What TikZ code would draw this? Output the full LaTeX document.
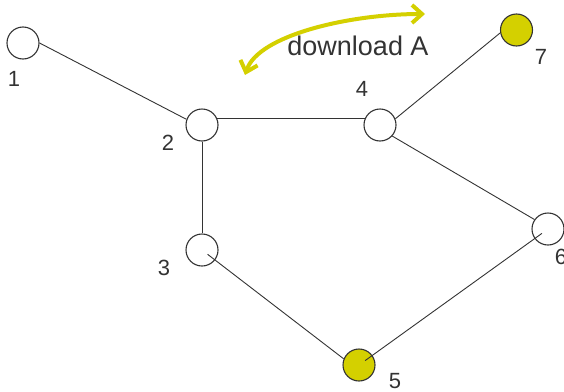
\documentclass[tikz,border=0pt]{standalone}
\usepackage{fontspec}
\setmainfont{Liberation Sans}
\usetikzlibrary{arrows.meta,calc}
\definecolor{ylw}{RGB}{212,208,0}
\definecolor{ink}{RGB}{51,51,51}
\tikzset{barbtip/.tip={Straight Barb[length=10pt,width=18pt]}}
\begin{document}
\begin{tikzpicture}[x=1pt,y=-1pt,
  vtx/.style={circle,draw=ink,line width=1.1pt,minimum size=32pt,inner sep=0pt,fill=white},
  hot/.style={vtx,fill=ylw},
  lbl/.style={font=\fontsize{22}{22}\selectfont,text=ink,inner sep=0pt},
  edge/.style={draw=ink,line width=0.9pt},
]
\useasboundingbox (0,0) rectangle (564,391);
\clip (0,0) rectangle (564,391);
% vertices
\node[vtx] (c1) at (23,43) {};
\node[vtx] (c2) at (202,125) {};
\node[vtx] (c3) at (202,250) {};
\node[vtx] (c4) at (380,125) {};
\node[hot] (c5) at (359,365) {};
\node[vtx] (c6) at (548,229) {};
\node[hot] (c7) at (516.5,30) {};
% labels
\node[lbl] (l1) at (14,79) {1};
\node[lbl] (l2) at (168,142.5) {2};
\node[lbl] (l3) at (164,268) {3};
\node[lbl] (l4) at (362,89) {4};
\node[lbl] (l5) at (395,381) {5};
\node[lbl] (l6) at (561,257) {6};
\node[lbl] (l7) at (541,57) {7};
% edges
\draw[edge] (c1.east) -- (c2.160);
\draw[edge] (c2.22) -- (c4.158);
\draw[edge] (c2.south) -- (c3.north);
\draw[edge,shorten <=7pt] (c3.center) -- (c5.158);
\draw[edge,shorten <=7.5pt,shorten >=7.5pt] (c5.center) -- (c6.center);
\draw[edge] (c4.-42) -- (c6.145);
\draw[edge] (c4.22) -- (c7.190);
% download arrow
\coordinate (a1) at (245,75);
\coordinate (a2) at (425,14);
\draw[ylw,line width=4pt,barbtip-barbtip] (a1) .. controls (258,35) and (350,14) .. (a2);
\node[font=\fontsize{27}{27}\selectfont,text=ink,inner sep=0pt,anchor=base] (dl) at (358,55) {download A};
\end{tikzpicture}
\end{document}
